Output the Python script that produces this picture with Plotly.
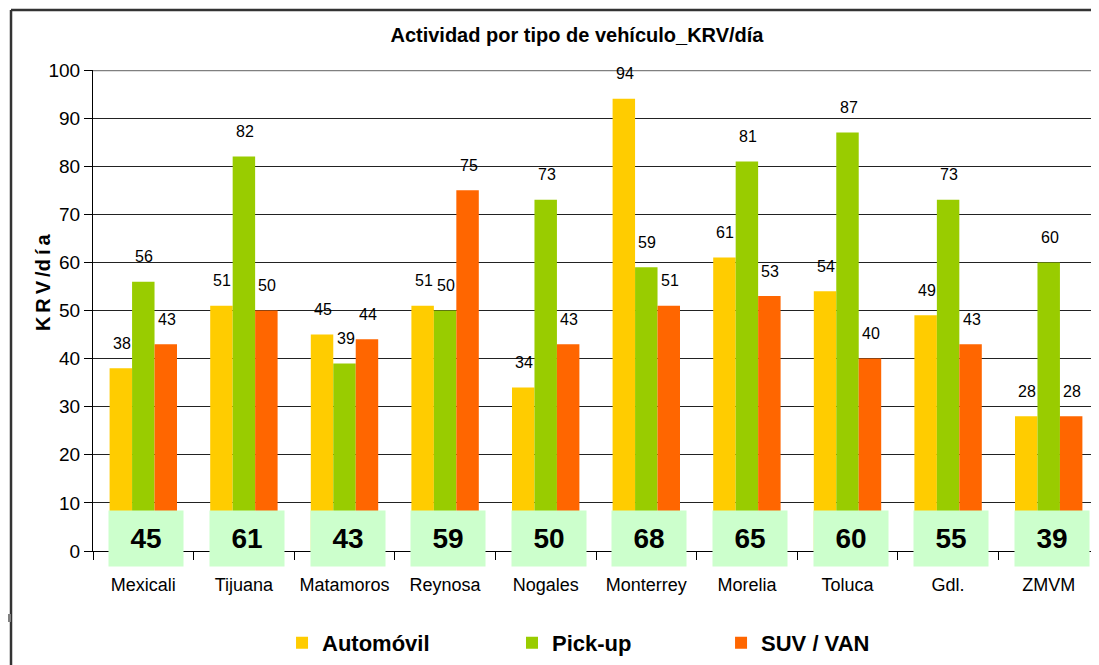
import plotly.graph_objects as go

cities = ["Mexicali", "Tijuana", "Matamoros", "Reynosa", "Nogales",
          "Monterrey", "Morelia", "Toluca", "Gdl.", "ZMVM"]
automovil = [38, 51, 45, 51, 34, 94, 61, 54, 49, 28]
pickup = [56, 82, 39, 50, 73, 59, 81, 87, 73, 60]
suv_van = [43, 50, 44, 75, 43, 51, 53, 40, 43, 28]
totals = [45, 61, 43, 59, 50, 68, 65, 60, 55, 39]
y_ticks = [0, 10, 20, 30, 40, 50, 60, 70, 80, 90, 100]

FONT = "Liberation Sans, Arial, sans-serif"

series = [("Automóvil", automovil, "#FFCC00", "legend", 0.1879),
          ("Pick-up", pickup, "#99CC00", "legend2", 0.4165),
          ("SUV / VAN", suv_van, "#FF6600", "legend3", 0.6243)]

fig = go.Figure()
bar_w = 22.5
for i, (name, vals, color, lg, lx) in enumerate(series):
    fig.add_trace(go.Bar(
        x=cities, y=vals, name=name, legend=lg,
        marker=dict(color=color, line=dict(width=0)),
    ))
    for c, v in zip(cities, vals):
        fig.add_annotation(x=c, y=v, xref="x", yref="y", text=str(v), showarrow=False,
                           xshift=(i - 1) * bar_w + 1, yshift=25, yanchor="middle",
                           font=dict(family=FONT, size=16, color="black"))

for c, t in zip(cities, totals):
    fig.add_annotation(x=c, y=2.6, xref="x", yref="y", text=f"<b>{t}</b>", xshift=3,
                       showarrow=False, bgcolor="#CCFFCC", width=74, height=55,
                       borderpad=0, font=dict(family=FONT, size=28, color="black"))

# y-axis title
fig.add_annotation(xref="paper", yref="paper", x=-0.0497, y=0.559, textangle=-90,
                   text="<b>K\u2009R\u2009V\u2009/d\u2009í\u2009a</b>", showarrow=False,
                   xanchor="center", yanchor="middle",
                   font=dict(family=FONT, size=20, color="black"))

# frame lines
fig.add_shape(type="line", xref="paper", yref="y", x0=0, x1=1.01, y0=100, y1=100,
              line=dict(color="#808080", width=2.5), layer="below")
fig.add_shape(type="line", xref="paper", yref="paper", x0=-0.0815, x1=1.01,
              y0=1.1247, y1=1.1247, line=dict(color="#333333", width=2.5))
fig.add_shape(type="line", xref="paper", yref="paper", x0=-0.0815, x1=-0.0815,
              y0=1.1247, y1=-0.25, line=dict(color="#333333", width=2.5))
fig.add_shape(type="rect", xref="paper", yref="paper", x0=-0.0845, x1=-0.0815,
              y0=-0.131, y1=-0.1476, fillcolor="#808080", line=dict(width=0))

legend_common = dict(orientation="h", y=-0.191, yanchor="middle", xanchor="left",
                     bgcolor="rgba(0,0,0,0)", borderwidth=0,
                     font=dict(family=FONT, size=22, color="black", weight="bold"))

fig.update_layout(
    width=1091, height=657,
    margin=dict(l=85, r=0, t=62, b=114),
    paper_bgcolor="white", plot_bgcolor="white",
    barmode="group", bargap=0.33, bargroupgap=0,
    title=dict(text="<b>Actividad por tipo de vehículo_KRV/día</b>", x=0.5215, xanchor="center",
               y=0.959, yanchor="middle", font=dict(family=FONT, size=20, color="black")),
    legend=dict(x=series[0][4], **legend_common),
    legend2=dict(x=series[1][4], **legend_common),
    legend3=dict(x=series[2][4], **legend_common),
    showlegend=True,
)
fig.update_xaxes(showline=True, linecolor="black", linewidth=1,
                 ticks="outside", tickson="boundaries", ticklen=8, tickcolor="black",
                 ticklabelstandoff=17,
                 tickfont=dict(family=FONT, size=18, color="black"), showgrid=False)
fig.update_yaxes(range=[0, 100], tickvals=y_ticks, showline=True, linecolor="black", linewidth=1,
                 ticks="outside", ticklen=8, tickcolor="black", automargin=False,
                 showgrid=True, gridcolor="#222222", gridwidth=1,
                 tickfont=dict(family=FONT, size=19, color="black"))
fig.write_html("out.html")
